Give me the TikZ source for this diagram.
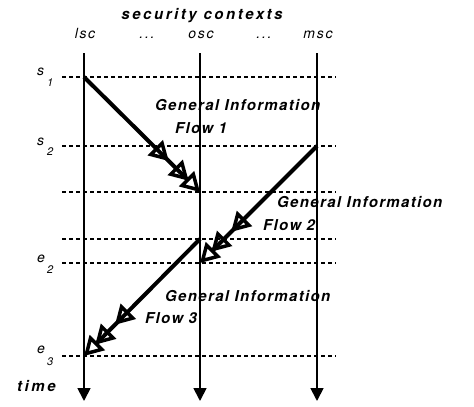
\documentclass[tikz,border=0pt]{standalone}
\usepackage{fontspec}
\setmainfont{TeX Gyre Heros}
\newfontfamily\lblfont[LetterSpace=9]{TeX Gyre Heros}
\newfontfamily\ctxfont[LetterSpace=12]{TeX Gyre Heros}
\newfontfamily\hdrfont[LetterSpace=17]{TeX Gyre Heros}
\usetikzlibrary{arrows.meta}
\begin{document}
\begin{tikzpicture}[x=1pt,y=-1pt,
  lbl/.style={inner sep=0pt,font=\lblfont\fontsize{15}{17}\selectfont\bfseries\itshape},
  hdr/.style={inner sep=0pt,font=\hdrfont\fontsize{15}{17}\selectfont\bfseries\itshape},
  ctx/.style={inner sep=0pt,font=\ctxfont\fontsize{14}{16}\selectfont\itshape},
  evt/.style={inner sep=0pt,font=\fontsize{14}{16}\selectfont\itshape},
  sub/.style={inner sep=0pt,font=\fontsize{11}{13}\selectfont\itshape},
  timeline/.style={line width=1.8pt,-{Triangle[length=13pt,width=13pt]}},
  tmark/.style={line width=1.3pt,dash pattern=on 4pt off 3pt},
  flow/.style={line width=4pt,
    -{Triangle[open,length=19pt,width=21pt,line width'=3.5pt,sep=9pt]
      Triangle[open,length=19pt,width=21pt,line width'=3.5pt,sep=-3pt]
      Triangle[open,length=19pt,width=21pt,line width'=3.5pt]}}]
\useasboundingbox (0,0) rectangle (474,407);
% column coordinates
\coordinate (lt) at (84,53);  \coordinate (lb) at (84,401);
\coordinate (ot) at (200,53); \coordinate (ob) at (200,401);
\coordinate (mt) at (317,53); \coordinate (mb) at (317,401);
% dashed time marks
\foreach \n/\y in {s1/77,s2/146,m3/192,m4/239,e2/263,e3/356}{
  \coordinate (\n l) at (62,\y);
  \coordinate (\n r) at (336,\y);
  \draw[tmark] (\n l) -- (\n r);
}
% time lines
\draw[timeline] (lt) -- (lb);
\draw[timeline] (ot) -- (ob);
\draw[timeline] (mt) -- (mb);
% header
\node[hdr,anchor=base] (hdrtext) at (202,19) {security contexts};
\node[ctx,anchor=base] (lsc) at (85,38) {lsc};
\node[ctx,anchor=base] (d1) at (147,38) {...};
\node[ctx,anchor=base] (osc) at (201,38) {osc};
\node[ctx,anchor=base] (d2) at (264,38) {...};
\node[ctx,anchor=base] (msc) at (318,38) {msc};
% event labels
\node[evt,anchor=base west] (s1) at (37,75) {s};
\node[sub,anchor=base west] (s1i) at (47,86) {1};
\node[evt,anchor=base west] (s2) at (37,145) {s};
\node[sub,anchor=base west] (s2i) at (47,155) {2};
\node[evt,anchor=base west] (e2) at (37,262) {e};
\node[sub,anchor=base west] (e2i) at (47,273) {2};
\node[evt,anchor=base west] (e3) at (37,353) {e};
\node[sub,anchor=base west] (e3i) at (47,365) {3};
\node[hdr,anchor=base west] (time) at (17,391) {time};
% flow points
\coordinate (f1a) at (84,77);  \coordinate (f1b) at (200,192);
\coordinate (f2a) at (317,146); \coordinate (f2b) at (200,263);
\coordinate (f3a) at (200,239); \coordinate (f3b) at (84,356);
\draw[flow] (f1a) -- (f1b);
\draw[flow] (f2a) -- (f2b);
\draw[flow] (f3a) -- (f3b);
% flow labels
\node[lbl,anchor=base west] (g1) at (155,110) {General Information};
\node[lbl,anchor=base west] (g1b) at (175,133) {Flow 1};
\node[lbl,anchor=base west] (g2) at (277,207) {General Information};
\node[lbl,anchor=base west] (g2b) at (263,230) {Flow 2};
\node[lbl,anchor=base west] (g3) at (165,301) {General Information};
\node[lbl,anchor=base west] (g3b) at (145,323) {Flow 3};
\end{tikzpicture}
\end{document}
